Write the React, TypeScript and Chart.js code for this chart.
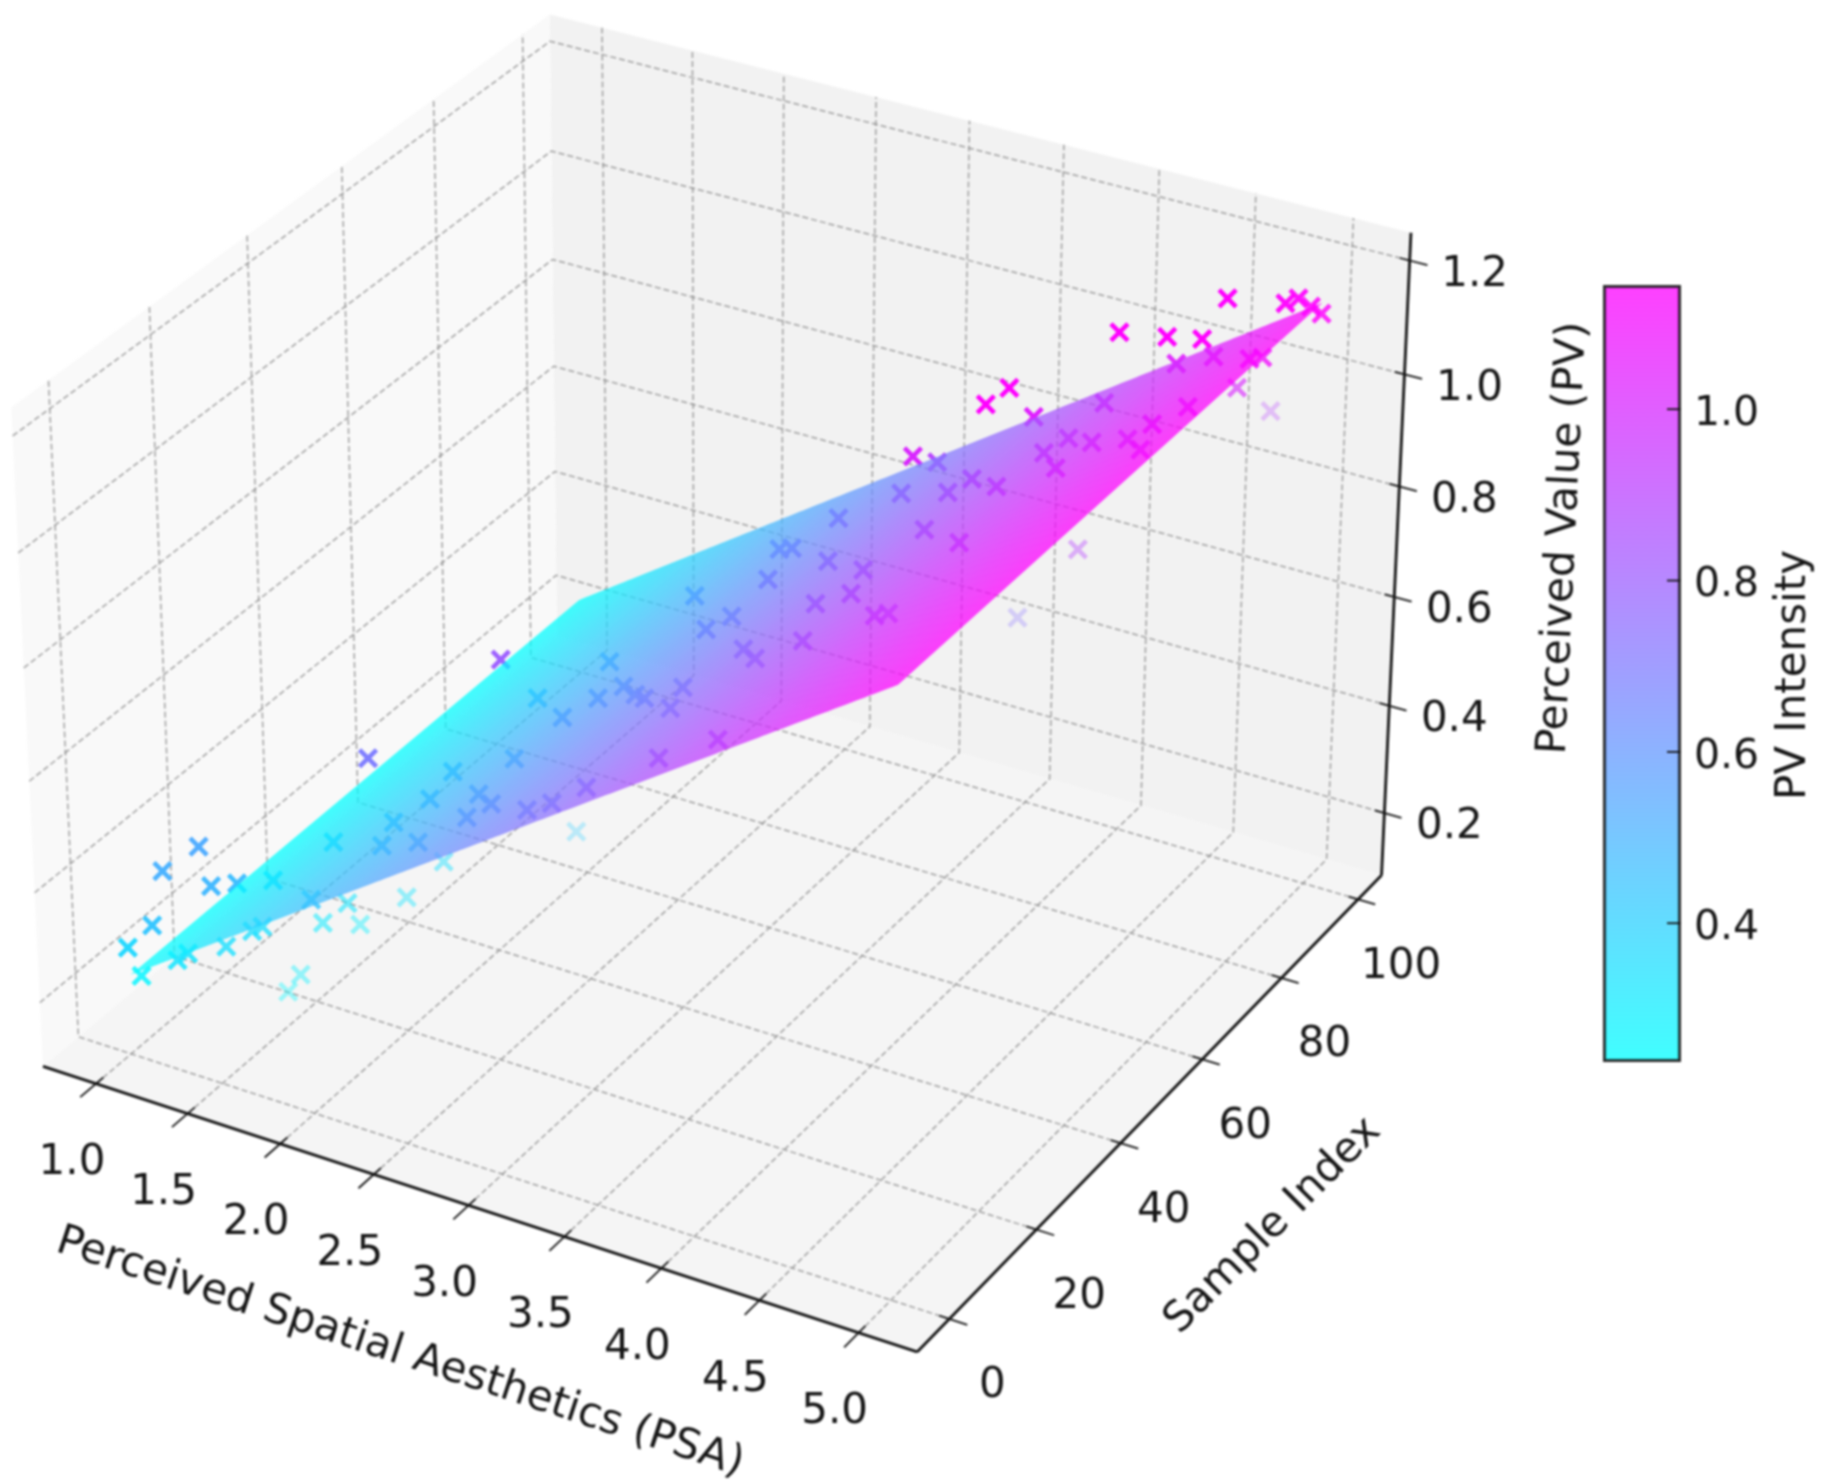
import React, { useEffect, useRef } from "react";
import { Chart, registerables } from "chart.js";
Chart.register(...registerables);

const FONT = '"DejaVu Sans"';
const TXT = "#161616";
const xTicks = [1, 1.5, 2, 2.5, 3, 3.5, 4, 4.5, 5];
const yTicks = [0, 20, 40, 60, 80, 100];
const zTicks = [0.2, 0.4, 0.6, 0.8, 1.0, 1.2];
const xLim = [0.708, 5.292];
const yLim = [-7.22, 106.22];
const zLim = [0.0823, 1.2484];
const surfacePsa = [1.015, 5];
const surfaceIdx = [0, 99];
const surfacePv = [0.23, 1.145];
const barRange = [0.238, 1.145];

const psaValues = [
  1.264, 1.427, 1.182, 1.408, 1.482, 1.594, 1.634, 1.59, 1.397, 1.406,
  1.572, 1.602, 1.621, 1.826, 1.809, 1.748, 1.854, 1.801, 1.927, 2.009,
  2.037, 2.61, 1.696, 2.143, 2.339, 2.082, 2.187, 2.149, 2.582, 2.475,
  2.661, 2.965, 3.079, 2.38, 3.256, 2.07, 2.498, 2.596, 2.379, 2.643,
  2.797, 2.919, 3.159, 3.069, 3.633, 3.89, 2.169, 2.515, 2.621, 2.942,
  2.937, 3.317, 3.45, 3.74, 3.096, 2.931, 2.977, 3.186, 3.342, 3.66,
  3.625, 3.809, 4.064, 4.04, 3.463, 3.734, 3.81, 4.139, 3.735, 3.555,
  3.905, 4.083, 4.133, 4.15, 4.099, 4.119, 4.345, 4.103, 4.306, 4.499,
  4.661, 4.179, 4.684, 4.748, 4.423, 4.584, 4.848, 4.893, 4.33, 4.538,
  4.685, 4.604, 4.855, 4.885, 4.971, 5.043, 4.705, 4.659, 4.498, 4.187,
];
const idxValues = [
  -9.2, -10.1, -3.8, -7.0, -2.4, -4.3, -0.6, 8.3, -4.3, -2.5,
  -0.9, 3.3, 4.7, 4.5, 2.5, 12.3, 16.0, 15.5, 3.3, 19.9,
  26.8, 32.6, 16.9, 9.8, 9.7, 14.7, 18.3, 24.7, 10.4, 17.2,
  12.4, 7.7, 8.3, 28.7, 8.4, 46.4, 34.4, 38.2, 49.8, 41.9,
  38.1, 35.0, 30.6, 37.2, 8.1, 9.9, 6.4, 20.7, 58.9, 47.8,
  53.8, 40.1, 37.0, 35.0, 55.2, 65.0, 65.9, 67.5, 58.2, 52.2,
  42.9, 42.8, 36.8, 41.0, 69.8, 68.5, 59.6, 52.7, 60.1, 74.1,
  66.3, 63.9, 58.7, 63.4, 71.8, 73.5, 65.7, 80.2, 76.2, 75.7,
  71.0, 85.2, 72.6, 78.2, 91.1, 92.5, 88.4, 89.4, 81.2, 82.9,
  84.4, 94.6, 96.8, 98.6, 97.5, 96.6, 92.7, 104.0, 64.2, 64.7,
];
const pvValues = [
  0.374, 0.438, 0.274, 0.51, 0.528, 0.483, 0.465, 0.401, 0.329, 0.329,
  0.347, 0.347, 0.347, 0.283, 0.265, 0.311, 0.292, 0.329, 0.438, 0.329,
  0.347, 0.419, 0.419, 0.51, 0.537, 0.51, 0.537, 0.537, 0.601, 0.583,
  0.619, 0.673, 0.692, 0.555, 0.737, 0.51, 0.601, 0.619, 0.583, 0.619,
  0.646, 0.673, 0.71, 0.692, 0.828, 0.873, 0.692, 0.8, 0.664, 0.71,
  0.692, 0.764, 0.782, 0.855, 0.764, 0.737, 0.737, 0.8, 0.8, 0.855,
  0.855, 0.891, 0.918, 0.891, 0.855, 0.891, 0.891, 0.945, 1.009, 0.891,
  0.945, 0.964, 1.145, 1.145, 1.036, 0.964, 1.009, 0.945, 0.982, 1.009,
  1.036, 0.982, 1.072, 1.072, 1.036, 1.054, 1.1, 1.1, 1.145, 1.145,
  1.145, 1.145, 1.145, 1.145, 1.145, 1.145, 1.009, 0.891, 0.891, 0.737,
];

const rad = Math.PI / 180;
const el = 30 * rad, az = -60 * rad;
const norm = Math.hypot(4, 4, 3);
const k = (1.8294640721620434 * 25) / 24 / norm;
const box = [4 * k, 4 * k, 3 * k];
const w = [Math.cos(el) * Math.cos(az), Math.cos(el) * Math.sin(az), Math.sin(el)];
const u = [-w[1] / Math.hypot(w[0], w[1]), w[0] / Math.hypot(w[0], w[1]), 0];
const v = [w[1] * u[2] - w[2] * u[1], w[2] * u[0] - w[0] * u[2], w[0] * u[1] - w[1] * u[0]];
const dot = (a: number[], b: number[]) => a[0] * b[0] + a[1] * b[1] + a[2] * b[2];
const S = 8412, OX = 724.6, OY = 651;
const viewX = [(0 - OX) / S, (1821 - OX) / S];
const viewY = [(OY - 1484) / S, OY / S];
const mid = (l: number[]) => (l[0] + l[1]) / 2;
const span = (l: number[]) => l[1] - l[0];

function project(px: number, ix: number, pv: number) {
  const p = [(px - mid(xLim)) / span(xLim) * box[0], (ix - mid(yLim)) / span(yLim) * box[1], (pv - mid(zLim)) / span(zLim) * box[2]];
  const d = 10 - dot(p, w);
  return { x: dot(p, u) / d, y: dot(p, v) / d };
}

const cool = (t: number, a: number) => `rgba(${Math.round(255 * t)},${Math.round(255 * (1 - t))},255,${a})`;
const clamp = (n: number, a: number, b: number) => Math.min(b, Math.max(a, n));
const slope = span(surfacePv) / span(surfacePsa);
const pointColor = pvValues.map((pv, i) => {
  const t = clamp((pv - barRange[0]) / span(barRange), 0, 1);
  const res = pv - (surfacePv[0] + slope * (psaValues[i] - surfacePsa[0]));
  return cool(t, clamp(0.85 + 3.2 * res, 0.3, 1));
});

const line = (p: number[][], o: any) => ({
  data: p.map((q) => project(q[0], q[1], q[2])), showLine: true, pointRadius: 0, tension: 0, fill: false, clip: false, ...o,
});
const [x0, x1] = xLim, [y0, y1] = yLim, [z0, z1] = zLim;
const gridStyle = { borderColor: "rgba(145,145,145,0.85)", borderWidth: 1.5, borderDash: [6, 3], order: 90 };
const axisStyle = { borderColor: "#141414", borderWidth: 2.8, order: 5 };
const tickStyle = { borderColor: "#141414", borderWidth: 1.8, order: 5 };
const pane = (p: number[][], c: string) => line(p, { fill: "shape", backgroundColor: c, borderWidth: 0, order: 100 });
const datasets: any[] = [
  pane([[x0, y0, z0], [x0, y1, z0], [x0, y1, z1], [x0, y0, z1]], "#f9f9f9"),
  pane([[x0, y1, z0], [x1, y1, z0], [x1, y1, z1], [x0, y1, z1]], "#f2f2f2"),
  pane([[x0, y0, z0], [x1, y0, z0], [x1, y1, z0], [x0, y1, z0]], "#f5f5f5"),
  ...xTicks.map((t) => line([[t, y0, z0], [t, y1, z0], [t, y1, z1]], gridStyle)),
  ...yTicks.map((t) => line([[x1, t, z0], [x0, t, z0], [x0, t, z1]], gridStyle)),
  ...zTicks.map((t) => line([[x0, y0, t], [x0, y1, t], [x1, y1, t]], gridStyle)),
  line([[x0, y0, z0], [x1, y0, z0]], axisStyle),
  line([[x1, y0, z0], [x1, y1, z0]], axisStyle),
  line([[x1, y1, z0], [x1, y1, z1]], axisStyle),
  ...xTicks.map((t) => line([[t, y0 + 1.5, z0], [t, y0 - 3.2, z0]], tickStyle)),
  ...yTicks.map((t) => line([[x1 - 0.05, t, z0], [x1 + 0.09, t, z0]], tickStyle)),
  ...zTicks.map((t) => line([[x1 - 0.05, y1, t], [x1 + 0.09, y1, t]], tickStyle)),
  {
    data: psaValues.map((p, i) => project(p, idxValues[i], pvValues[i])),
    showLine: false, pointStyle: "crossRot", pointRadius: 12, pointBorderWidth: 4.6,
    pointBorderColor: pointColor, pointBackgroundColor: "transparent", clip: false, order: 10,
  },
];

const surfacePlugin = {
  id: "surface",
  afterDatasetsDraw(chart: any) {
    const { ctx, scales } = chart;
    const px = (q: { x: number; y: number }) => [scales.x.getPixelForValue(q.x), scales.y.getPixelForValue(q.y)];
    const off = document.createElement("canvas");
    off.width = chart.width; off.height = chart.height;
    const o = off.getContext("2d")!;
    const N = 240;
    for (let i = 0; i < N; i++) {
      const f0 = i / N, f1 = Math.min(1, (i + 1.6) / N);
      const at = (f: number, ix: number) => px(project(surfacePsa[0] + f * span(surfacePsa), ix, surfacePv[0] + f * span(surfacePv)));
      const a = at(f0, surfaceIdx[0]), b = at(f1, surfaceIdx[0]), c = at(f1, surfaceIdx[1]), d = at(f0, surfaceIdx[1]);
      o.fillStyle = cool(f0, 1);
      o.beginPath(); o.moveTo(a[0], a[1]); o.lineTo(b[0], b[1]); o.lineTo(c[0], c[1]); o.lineTo(d[0], d[1]); o.closePath(); o.fill();
    }
    ctx.save(); ctx.globalAlpha = 0.74; ctx.drawImage(off, 0, 0); ctx.restore();
  },
  afterDraw(chart: any) {
    const { ctx, scales } = chart;
    const px = (q: { x: number; y: number }) => [scales.x.getPixelForValue(q.x), scales.y.getPixelForValue(q.y)];
    ctx.save();
    ctx.fillStyle = TXT; ctx.font = `42px ${FONT}`; ctx.textAlign = "center"; ctx.textBaseline = "middle";
    xTicks.forEach((t) => { const p = px(project(t, y0, z0)); ctx.fillText(t.toFixed(1), p[0] - 24, p[1] + 79.5); });
    yTicks.forEach((t) => { const p = px(project(x1, t, z0)); ctx.fillText(String(t), p[0] + 43, p[1] + 67.5); });
    zTicks.forEach((t) => { const p = px(project(x1, y1, t)); ctx.fillText(t.toFixed(1), p[0] + 65, p[1] + 14.5); });
    const rot = (s: string, x: number, y: number, deg: number) => {
      ctx.save(); ctx.translate(x, y); ctx.rotate(deg * rad); ctx.fillText(s, 0, 0); ctx.restore();
    };
    rot("Perceived Spatial Aesthetics (PSA)", 400, 1353, 18.2);
    rot("Sample Index", 1273, 1226, -45);
    rot("Perceived Value (PV)", 1564, 538, -87.3);
    rot("PV Intensity", 1794, 675, -90);
    ctx.restore();
  },
};

const barTicks = {
  id: "barTicks",
  afterDraw(chart: any) {
    const { ctx, scales, chartArea } = chart;
    ctx.save(); ctx.strokeStyle = "#141414"; ctx.lineWidth = 1.8;
    scales.y.ticks.forEach((t: any) => {
      const y = scales.y.getPixelForValue(t.value);
      ctx.beginPath(); ctx.moveTo(chartArea.right - 14, y); ctx.lineTo(chartArea.right, y); ctx.stroke();
    });
    ctx.restore();
  },
};

export default function App() {
  const main = useRef<HTMLCanvasElement>(null);
  const bar = useRef<HTMLCanvasElement>(null);
  useEffect(() => {
    document.body.style.margin = "0";
    const c1 = new Chart(main.current!, {
      type: "scatter",
      data: { datasets },
      plugins: [surfacePlugin],
      options: {
        animation: false, responsive: false, events: [],
        layout: { padding: 0, autoPadding: false },
        plugins: { legend: { display: false }, tooltip: { enabled: false } },
        scales: {
          x: { type: "linear", display: false, min: viewX[0], max: viewX[1] },
          y: { type: "linear", display: false, min: viewY[0], max: viewY[1] },
        },
      },
    } as any);
    const c2 = new Chart(bar.current!, {
      type: "bar",
      data: {
        labels: ["PV Intensity"],
        datasets: [{
          data: [barRange],
          barPercentage: 1, categoryPercentage: 1, borderWidth: 3, borderColor: "#2a2a2a", borderSkipped: false,
          backgroundColor: (c: any) => {
            const a = c.chart.chartArea;
            if (!a) return "#fff";
            const g = c.chart.ctx.createLinearGradient(0, a.bottom, 0, a.top);
            g.addColorStop(0, "rgba(0,255,255,0.75)");
            g.addColorStop(1, "rgba(255,0,255,0.75)");
            return g;
          },
        }],
      },
      plugins: [barTicks],
      options: {
        animation: false, responsive: false, events: [],
        layout: { padding: { left: 13, top: 15, bottom: 18, right: 0 }, autoPadding: false },
        plugins: { legend: { display: false }, tooltip: { enabled: false } },
        scales: {
          x: { display: false },
          y: {
            position: "right", min: barRange[0], max: barRange[1],
            grid: { display: false, drawTicks: false }, border: { display: false },
            afterFit: (s: any) => { s.width = 140; s.paddingTop = 0; s.paddingBottom = 0; },
            ticks: { stepSize: 0.2, includeBounds: false, padding: 13, labelOffset: 5, color: TXT, font: { family: FONT, size: 41 }, callback: (v: any) => Number(v).toFixed(1) },
          },
        },
      },
    } as any);
    return () => { c1.destroy(); c2.destroy(); };
  }, []);
  return (
    <div style={{ position: "absolute", left: 0, top: 0, width: 1821, height: 1484, overflow: "hidden", background: "#fff" }}>
      <canvas ref={main} width={1821} height={1484} style={{ position: "absolute", left: 0, top: 0, filter: "blur(0.8px)" }} />
      <canvas ref={bar} width={231} height={810} style={{ position: "absolute", left: 1590, top: 270, filter: "blur(0.8px)" }} />
    </div>
  );
}
